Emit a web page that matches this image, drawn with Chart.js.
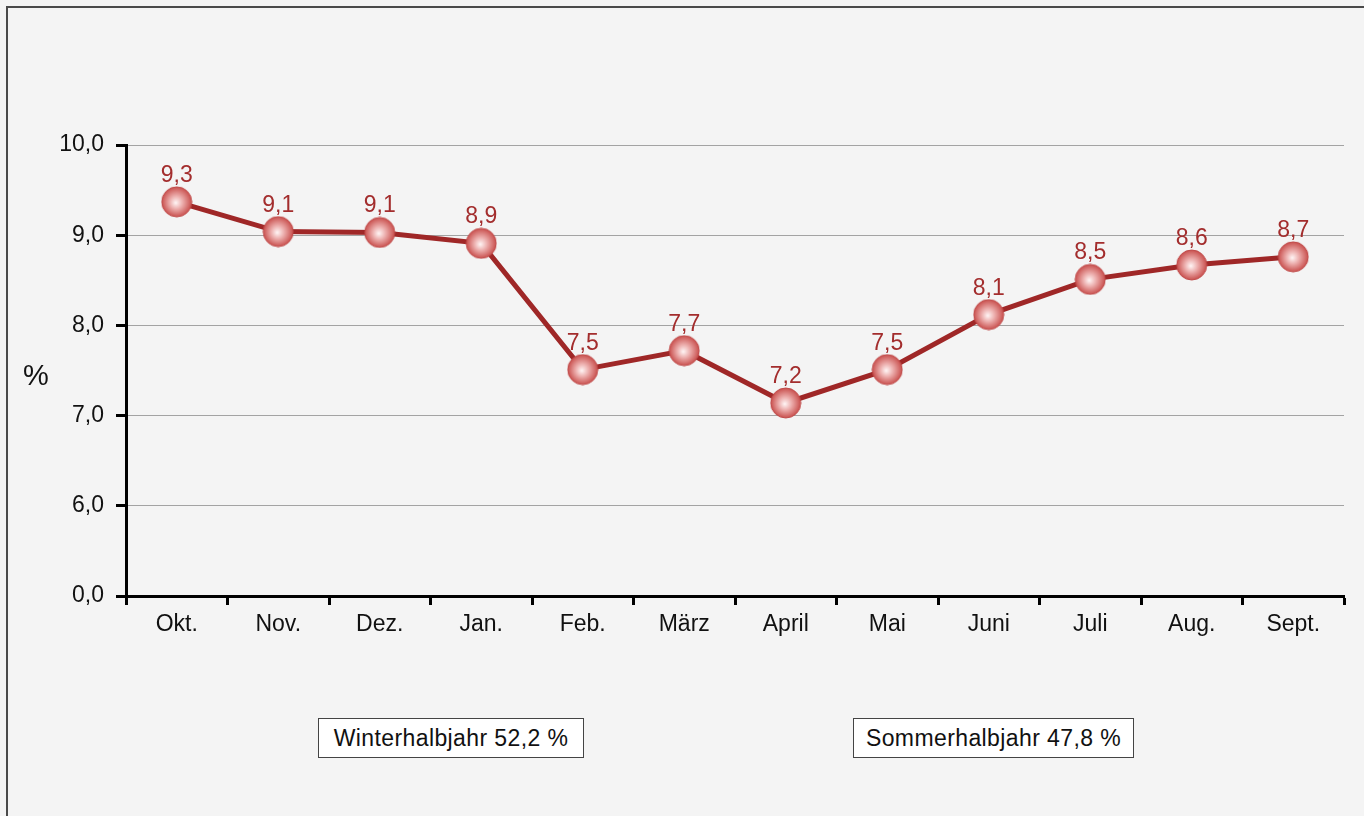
<!DOCTYPE html>
<html lang="de">
<head>
  <meta charset="UTF-8" />
  <title>Monatsanteile</title>
  <script src="https://cdn.jsdelivr.net/npm/chart.js"></script>
  <style>
    html, body {
      margin: 0;
      padding: 0;
      background: #f4f4f4;
      font-family: 'Liberation Sans', Arial, sans-serif;
      overflow: hidden;
    }
    .frame {
      position: absolute;
      left: 6px;
      top: 6px;
      width: 1400px;
      height: 900px;
      border-top: 2px solid #4a4a4a;
      border-left: 2px solid #4a4a4a;
    }
    #chart {
      position: absolute;
      left: 0;
      top: 0;
    }
    .unit {
      position: absolute;
      left: 23px;
      top: 359px;
      font-size: 29px;
      color: #111;
    }
    .box {
      position: absolute;
      top: 718px;
      height: 38px;
      line-height: 38px;
      background: #fff;
      border: 1px solid #444;
      font-size: 23px;
      letter-spacing: 0.4px;
      color: #111;
      text-align: center;
    }
  </style>
</head>
<body>
  <div class="frame"></div>
  <canvas id="chart" width="1364" height="816"></canvas>
  <div class="unit">%</div>
  <div class="box" style="left:318px;width:264px;">Winterhalbjahr 52,2 %</div>
  <div class="box" style="left:853px;width:279px;">Sommerhalbjahr 47,8 %</div>

  <script>
    // data
    const months = ['Okt.', 'Nov.', 'Dez.', 'Jan.', 'Feb.', 'März', 'April', 'Mai', 'Juni', 'Juli', 'Aug.', 'Sept.'];
    const shares = [9.37, 9.04, 9.03, 8.91, 7.51, 7.72, 7.14, 7.51, 8.12, 8.51, 8.67, 8.76];
    const shareLabels = ['9,3', '9,1', '9,1', '8,9', '7,5', '7,7', '7,2', '7,5', '8,1', '8,5', '8,6', '8,7'];
    // broken axis: the bottom tick stands for 0,0
    const yTicks = [5, 6, 7, 8, 9, 10];
    const yTickLabels = ['0,0', '6,0', '7,0', '8,0', '9,0', '10,0'];

    const font = '"Liberation Sans", Arial, sans-serif';

    // shaded ball marker
    function makeBall(r) {
      const c = document.createElement('canvas');
      const s = r * 2 + 2;
      c.width = s; c.height = s;
      const g = c.getContext('2d');
      const cx = s / 2, cy = s / 2;
      const grad = g.createRadialGradient(cx - 1, cy + 1, 0, cx, cy, r);
      grad.addColorStop(0, '#fff6f6');
      grad.addColorStop(0.4, '#eeb3b2');
      grad.addColorStop(1, '#c9504e');
      g.beginPath();
      g.arc(cx, cy, r, 0, Math.PI * 2);
      g.fillStyle = grad;
      g.fill();
      g.lineWidth = 1;
      g.strokeStyle = '#bf4a49';
      g.stroke();
      return c;
    }
    const ball = makeBall(15);

    const valueLabels = {
      id: 'valueLabels',
      afterDatasetsDraw(chart) {
        const ctx = chart.ctx;
        const meta = chart.getDatasetMeta(0);
        ctx.save();
        ctx.font = '23px ' + font;
        ctx.fillStyle = '#a32d2d';
        ctx.textAlign = 'center';
        ctx.textBaseline = 'alphabetic';
        meta.data.forEach((pt, i) => {
          ctx.fillText(shareLabels[i], pt.x, pt.y - 20);
        });
        ctx.restore();
      }
    };

    new Chart(document.getElementById('chart'), {
      type: 'line',
      data: {
        labels: months,
        datasets: [{
          data: shares,
          borderColor: '#9f2727',
          borderWidth: 5,
          tension: 0,
          pointStyle: ball,
          pointRadius: 15,
          pointHoverRadius: 15
        }]
      },
      options: {
        responsive: false,
        animation: false,
        layout: { padding: { top: 145, right: 17, bottom: 180, left: 0 } },
        plugins: {
          legend: { display: false },
          tooltip: { enabled: false }
        },
        scales: {
          x: {
            type: 'category',
            offset: true,
            afterFit: s => { s.height = 40; },
            border: { color: '#000', width: 3 },
            grid: {
              offset: true,
              drawOnChartArea: false,
              tickLength: 9,
              tickColor: '#000',
              tickWidth: 3
            },
            ticks: {
              color: '#111',
              padding: 6,
              maxRotation: 0,
              font: { family: font, size: 23 }
            }
          },
          y: {
            min: 5,
            max: 10,
            afterFit: s => { s.width = 126; },
            afterBuildTicks: s => { s.ticks = yTicks.map(v => ({ value: v })); },
            border: { color: '#000', width: 3 },
            grid: {
              color: ctx => ctx.tick && ctx.tick.value === 5 ? 'rgba(0,0,0,0)' : '#a3a3a3',
              lineWidth: 1,
              tickLength: 10,
              tickColor: '#000',
              tickWidth: 3
            },
            ticks: {
              color: '#111',
              padding: 12,
              font: { family: font, size: 23 },
              callback: v => yTickLabels[yTicks.indexOf(v)]
            }
          }
        }
      },
      plugins: [valueLabels]
    });
  </script>
</body>
</html>
